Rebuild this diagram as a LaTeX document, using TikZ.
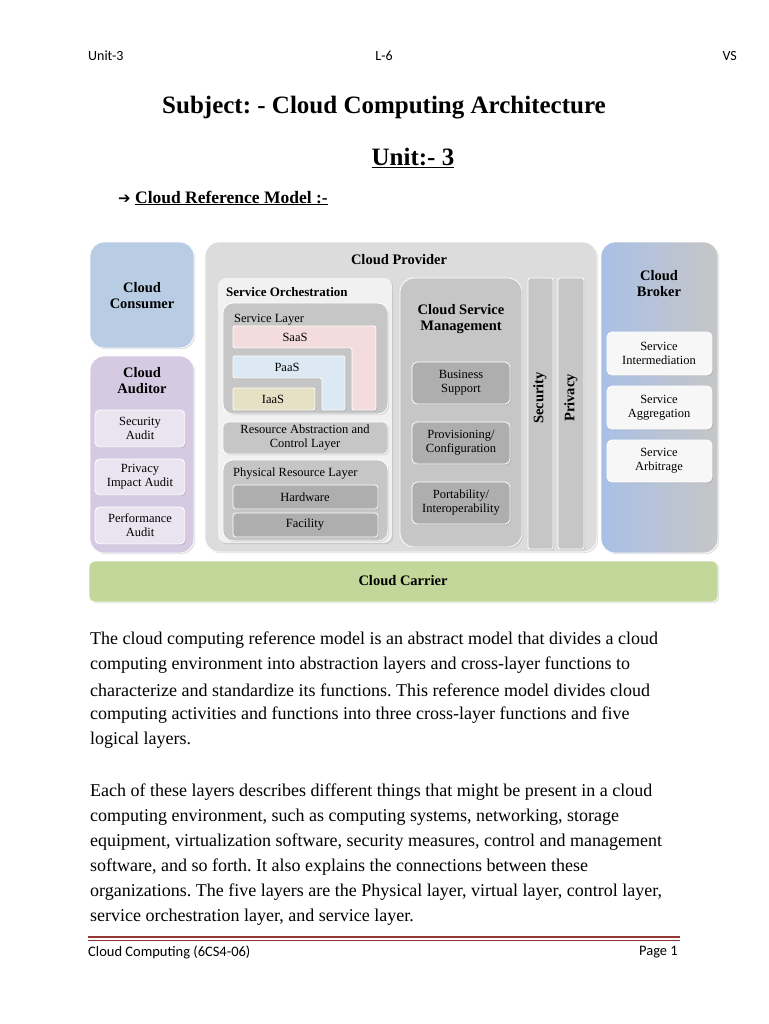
\documentclass[tikz,border=0pt]{standalone}
\usepackage{fontspec}
\setmainfont{Liberation Serif}
\newfontfamily\carlitofont{Carlito}
\newfontfamily\dejafont{DejaVu Sans}
\usetikzlibrary{shadows}
\definecolor{cons}{HTML}{B8CCE4}
\definecolor{aud}{HTML}{D5CAE2}
\definecolor{audbox}{HTML}{EAE4F0}
\definecolor{prov}{HTML}{DCDCDC}
\definecolor{lay}{HTML}{C6C6C6}
\definecolor{dark}{HTML}{AEAEAE}
\definecolor{saas}{HTML}{F4DCDC}
\definecolor{paas}{HTML}{DCE8F4}
\definecolor{iaas}{HTML}{E6E0C4}
\definecolor{carr}{HTML}{C4D79B}
\definecolor{foot}{HTML}{943634}
\definecolor{brok}{HTML}{A9C0E6}
\frenchspacing
\tikzset{
 box/.style={rounded corners=#1, draw=white, line width=0.8pt, drop shadow={opacity=0.25,shadow xshift=1.2pt,shadow yshift=-1.2pt}},
 box/.default=6pt,
 lbl/.style={font=\fontsize{14.5}{16}\selectfont\bfseries, align=center, inner sep=0},
 sml/.style={font=\fontsize{12.5}{14}\selectfont, align=center, inner sep=0},
 para/.style={anchor=west, font=\fontsize{18}{20}\selectfont, inner sep=0},
 hdr/.style={font=\carlitofont\fontsize{14}{15}\selectfont, inner sep=0}
}
\begin{document}
\begin{tikzpicture}[x=1pt,y=-1pt]
\fill[white] (0,0) rectangle (768,1024);
\useasboundingbox (0,0) rectangle (768,1024);
% header
\node[hdr,anchor=west] (h1) at (88,56) {Unit-3};
\node[hdr] (h2) at (384,56) {L-6};
\node[hdr,anchor=east] (h3) at (737,56) {VS};
\node[font=\fontsize{25}{27}\selectfont\bfseries] (title) at (384,108) {Subject: - Cloud Computing Architecture};
\node[font=\fontsize{25}{27}\selectfont\bfseries] (unit) at (413,158) {\underline{Unit:- 3}};
\node[anchor=west,font=\fontsize{17.5}{19}\selectfont\bfseries,inner sep=0] (crm) at (118,198) {{\dejafont\fontsize{15}{17}\selectfont ➔} \underline{Cloud Reference Model :-}};
% consumer
\path[box=14pt, fill=cons] (90,242) rectangle (194,348);
\node[lbl] (consumer) at (142,296) {Cloud\\Consumer};
% auditor
\path[box=14pt, fill=aud] (90,356) rectangle (194,553);
\node[lbl] (auditor) at (142,381) {Cloud\\Auditor};
\foreach \n/\a/\b/\t in {sa/410/447/{Security\\Audit},pa/459/495/{Privacy\\Impact Audit},pf/507/544/{Performance\\Audit}}{
 \path[box=5pt, fill=audbox] (95,\a) rectangle (185,\b);
 \node[sml] (\n) at (140,{(\a+\b)/2}) {\t};
}
% provider
\path[box=14pt, fill=prov] (205,242) rectangle (597,552);
\node[lbl] (provider) at (399,260) {Cloud Provider};
\path[box=8pt, fill=white!60!prov, draw=none] (218,278) rectangle (392,543);
\node[lbl,font=\fontsize{13}{14}\selectfont\bfseries,anchor=west] (so) at (226,292) {Service Orchestration};
\path[box=10pt, fill=lay] (223,303) rectangle (388,414);
\node[sml,anchor=west] (sl) at (234,320) {Service Layer};
\path[box=2pt, fill=saas] (233,326) -- (376,326) -- (376,410) -- (352,410) -- (352,348) -- (233,348) -- cycle;
\node[sml] (saasn) at (295,337) {SaaS};
\path[box=2pt, fill=paas] (233,356) -- (345,356) -- (345,410) -- (322,410) -- (322,378) -- (233,378) -- cycle;
\node[sml] (paasn) at (287,367) {PaaS};
\path[box=2pt, fill=iaas] (233,388) rectangle (315,410);
\node[sml] (iaasn) at (273,399) {IaaS};
\path[box=5pt, fill=lay] (223,422) rectangle (388,454);
\node[sml] (rac) at (305,438) {Resource Abstraction and\\Control Layer};
\path[box=10pt, fill=lay] (223,460) rectangle (388,541);
\node[sml,anchor=west] (prl) at (233,474) {Physical Resource Layer};
\path[box=3pt, fill=dark] (233,485) rectangle (378,509);
\node[sml] (hw) at (305,497) {Hardware};
\path[box=3pt, fill=dark] (233,513) rectangle (378,537);
\node[sml] (fac) at (305,525) {Facility};
% management
\path[box=14pt, fill=lay] (400,278) rectangle (522,547);
\node[lbl] (csm) at (461,319) {Cloud Service\\Management};
\foreach \n/\a/\b/\t in {bs/362/404/{Business\\Support},pc/422/464/{Provisioning/\\Configuration},pi/482/524/{Portability/\\Interoperability}}{
 \path[box=5pt, fill=dark] (412,\a) rectangle (510,\b);
 \node[sml] (\n) at (461,{(\a+\b)/2}) {\t};
}
\path[box=2pt, fill=lay] (528,278) rectangle (553,549);
\node[lbl,rotate=90] (sec) at (540,398) {Security};
\path[box=2pt, fill=lay] (558,278) rectangle (584,549);
\node[lbl,rotate=90] (priv) at (571,398) {Privacy};
% broker
\path[box=14pt, left color=brok, middle color=white!95!gray, right color=lay] (601,242) rectangle (718,553);
\node[lbl] (broker) at (659,284) {Cloud\\Broker};
\foreach \n/\a/\b/\t in {si/332/375/{Service\\Intermediation},sg/386/429/{Service\\Aggregation},sr/440/482/{Service\\Arbitrage}}{
 \path[box=5pt, fill=white!94!gray] (607,\a) rectangle (712,\b);
 \node[sml] (\n) at (659,{(\a+\b)/2}) {\t};
}
% carrier
\path[box=6pt, fill=carr] (89,561) rectangle (718,602);
\node[lbl] (carrier) at (403,581) {Cloud Carrier};
% paragraphs
\foreach \y/\t [count=\i] in {
640/{The cloud computing reference model is an abstract model that divides a cloud},
665/{computing environment into abstraction layers and cross-layer functions to},
690/{characterize and standardize its functions. This reference model divides cloud},
715/{computing activities and functions into three cross-layer functions and five},
740/{logical layers.},
792/{Each of these layers describes different things that might be present in a cloud},
817/{computing environment, such as computing systems, networking, storage},
842/{equipment, virtualization software, security measures, control and management},
867/{software, and so forth. It also explains the connections between these},
892/{organizations. The five layers are the Physical layer, virtual layer, control layer,},
917/{service orchestration layer, and service layer.}}{
 \node[para] (p\i) at (90,\y) {\t};
}
% footer
\draw[foot, line width=1.6pt] (88,937) -- (680,937);
\draw[foot, line width=0.6pt] (88,940.5) -- (680,940.5);
\node[hdr,anchor=west,font=\carlitofont\fontsize{14.5}{15}\selectfont] (f1) at (88,952) {Cloud Computing (6CS4-06)};
\node[hdr,anchor=east,font=\carlitofont\fontsize{14.5}{15}\selectfont] (f2) at (678,952) {Page 1};
\end{tikzpicture}
\end{document}
